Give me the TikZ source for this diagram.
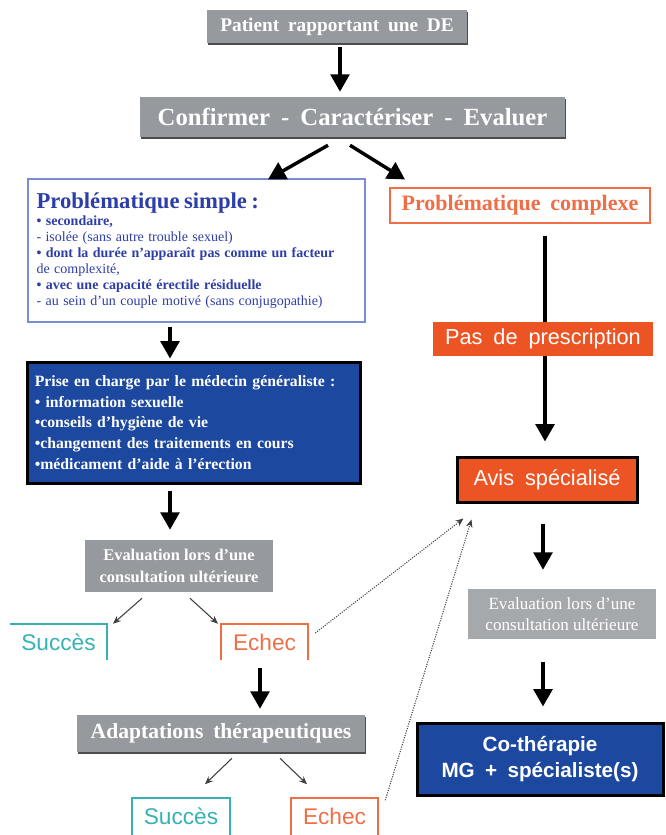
\documentclass[tikz,border=0pt]{standalone}
\usepackage{fontspec}
\setmainfont{Liberation Serif}[WordSpace=1.8]
\newfontfamily\arialfont{Liberation Sans}[WordSpace=1.8]
\newfontfamily\plainserif{Liberation Serif}
\usetikzlibrary{arrows.meta,shadows}

\definecolor{boxgray}{RGB}{150,154,158}
\definecolor{evalgray}{RGB}{166,169,172}
\definecolor{gpblue}{RGB}{28,72,160}
\definecolor{avisorange}{RGB}{236,84,36}
\definecolor{echecorange}{RGB}{240,110,70}
\definecolor{succteal}{RGB}{54,178,178}
\definecolor{simpleblue}{RGB}{45,62,168}
\definecolor{frameblue}{RGB}{120,142,212}

\newcommand{\fs}[2]{\fontsize{#1}{#2}\selectfont}

\begin{document}
\begin{tikzpicture}[x=0.75pt,y=-0.75pt,
    every node/.style={inner sep=0pt, align=center},
    graybox/.style={fill=boxgray, text=white, font=\bfseries},
    shadowbox/.style={graybox, drop shadow={shadow xshift=1pt, shadow yshift=-1.2pt, fill=black!70, opacity=1}},
    orangebox/.style={fill=avisorange, text=white, font=\arialfont},
    bluebox/.style={fill=gpblue, text=white, draw=black, line width=2.25pt},
    bigarrow/.style={line width=2.6pt, -{Triangle[length=13pt,width=14pt]}},
    thinarrow/.style={line width=0.8pt, black!75, -{Stealth[length=6pt,width=5pt]}},
    dotarrow/.style={line width=0.8pt, densely dotted, black!75, -{Stealth[length=6pt,width=5pt]}},
    openbox/.style={font=\arialfont\fs{17}{20}, minimum height=27pt}]
  \useasboundingbox (0,0) rectangle (665,835);

  \node[shadowbox, minimum width=195pt, minimum height=24.75pt, font=\bfseries\fs{14.5}{16}] (patient) at (337,26.5) {Patient rapportant une DE};
  \node[shadowbox, minimum width=318.75pt, minimum height=30pt, font=\bfseries\fs{18.5}{21}] (confirm) at (352.5,117) {Confirmer - Caractériser - Evaluer};

  \node[draw=frameblue, line width=1pt, fill=white, text=simpleblue, minimum width=252.75pt, minimum height=107.25pt,
        text width=240pt, align=left] (simple) at (196.5,250.5)
    {{\bfseries\fs{17}{19}Problématique simple :}\\[1pt]
     {\plainserif\bfseries\fs{10.5}{13}• secondaire,}\\
     {\plainserif\fs{10.5}{13}- isolée (sans autre trouble sexuel)}\\
     {\plainserif\bfseries\fs{10.5}{13}• dont la durée n’apparaît pas comme un facteur}\\
     {\plainserif\fs{10.5}{13}de complexité,}\\
     {\plainserif\bfseries\fs{10.5}{13}• avec une capacité érectile résiduelle}\\
     {\plainserif\fs{10.5}{13}- au sein d’un couple motivé (sans conjugopathie)}};

  \node[draw=echecorange, line width=0.8pt, text=echecorange, minimum width=195pt, minimum height=26.25pt,
        font=\bfseries\fs{16.5}{18}] (complexe) at (520,205.5) {Problématique complexe};

  \node[bluebox, minimum width=249.75pt, minimum height=90.75pt, text width=238pt, align=left,
        font=\plainserif\bfseries\fs{11.8}{15.5}] (prise) at (193.5,422.5)
    {Prise en charge par le médecin généraliste :\\
     • information sexuelle\\
     •conseils d’hygiène de vie\\
     •changement des traitements en cours\\
     •médicament d’aide à l’érection};

  \node[graybox, minimum width=141pt, minimum height=39pt, font=\plainserif\bfseries\fs{12.3}{16}] (eval1) at (179,566)
    {Evaluation lors d’une\\consultation ultérieure};
  \node[openbox, text=succteal, minimum width=72.75pt] (succes1) at (58.5,642) {Succès};
  \node[openbox, text=echecorange, minimum width=65.25pt] (echec1) at (264.5,642) {Echec};
  \node[shadowbox, minimum width=216pt, minimum height=27.75pt, font=\bfseries\fs{16.2}{18}] (adapt) at (221,733.5) {Adaptations thérapeutiques};
  \node[openbox, text=succteal, minimum width=73.5pt] (succes2) at (181,816.5) {Succès};
  \node[openbox, text=echecorange, minimum width=65.25pt] (echec2) at (334.5,816.5) {Echec};

  \node[orangebox, minimum width=165pt, minimum height=25.5pt, font=\arialfont\fs{16.3}{18}] (pas) at (543,339) {Pas de prescription};
  \node[orangebox, draw=black, line width=2.25pt, minimum width=135pt, minimum height=33.75pt, font=\arialfont\fs{16.3}{18}] (avis) at (547,479.5) {Avis spécialisé};
  \node[fill=evalgray, text=white, minimum width=141pt, minimum height=37.5pt, font=\plainserif\fs{12.8}{16}] (eval2) at (562,614)
    {Evaluation lors d’une\\consultation ultérieure};
  \node[bluebox, minimum width=184.5pt, minimum height=54pt, font=\arialfont\bfseries\fs{15.5}{19}] (cother) at (540,759)
    {Co-thérapie\\MG + spécialiste(s)};

  \draw[succteal, line width=1.5pt] (succes1.north west) -- (succes1.north east) -- (succes1.south east);
  \draw[echecorange, line width=1.5pt] (echec1.south west) |- (echec1.north east) -- (echec1.south east);
  \draw[succteal, line width=1.5pt] (succes2.south west) |- (succes2.north east) -- (succes2.south east);
  \draw[echecorange, line width=1.5pt] (echec2.south west) |- (echec2.north east) -- (echec2.south east);

  \draw[bigarrow] ([shift={(3,4)}]patient.south) -- ([shift={(-12.5,-5)}]confirm.north);
  \draw[bigarrow] ([shift={(-24.5,8)}]confirm.south) -- ([shift={(71.5,1)}]simple.north);
  \draw[bigarrow] ([shift={(-2.5,8)}]confirm.south) -- ([shift={(-115,-8)}]complexe.north);
  \draw[bigarrow] ([shift={(-26.5,4)}]simple.south) -- ([shift={(-23.5,-2)}]prise.north);
  \draw[bigarrow] ([shift={(-23.5,6)}]prise.south) -- ([shift={(-9,-10)}]eval1.north);
  \draw[thinarrow] ([shift={(-37,6)}]eval1.south) -- ([shift={(54.5,0)}]succes1.north);
  \draw[thinarrow] ([shift={(11,6)}]eval1.south) -- ([shift={(-46.5,0)}]echec1.north);
  \draw[bigarrow] ([shift={(-4.5,8)}]echec1.south) -- ([shift={(39,-6)}]adapt.north);
  \draw[thinarrow] ([shift={(11,6)}]adapt.south) -- ([shift={(24,-14)}]succes2.north);
  \draw[thinarrow] ([shift={(59,6)}]adapt.south) -- ([shift={(-27.5,-14)}]echec2.north);
  \draw[dotarrow] ([shift={(7,-9)}]echec1.east) -- ([shift={(8,15)}]avis.south west);
  \draw[dotarrow] ([shift={(7,2)}]echec2.north east) -- ([shift={(16,16)}]avis.south west);
  \draw[line width=2.6pt] ([shift={(25,12)}]complexe.south) -- ([shift={(2,0)}]pas.north);
  \draw[bigarrow] ([shift={(2,0)}]pas.south) -- ([shift={(-2,-14)}]avis.north);
  \draw[bigarrow] ([shift={(-4,20)}]avis.south) -- ([shift={(-19,-19)}]eval2.north);
  \draw[bigarrow] ([shift={(-19,23)}]eval2.south) -- ([shift={(3,-15)}]cother.north);
\end{tikzpicture}
\end{document}
